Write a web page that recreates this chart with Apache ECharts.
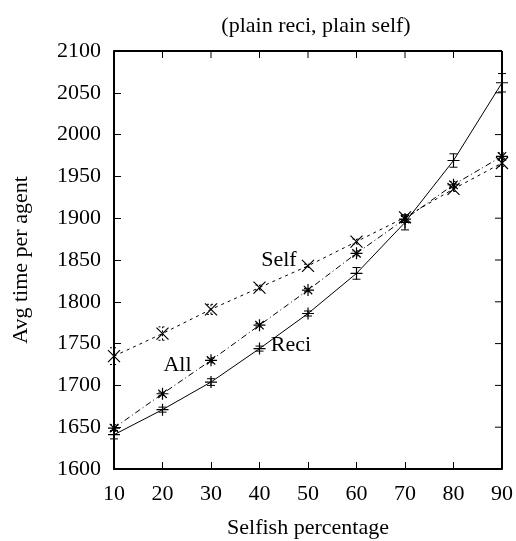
<!DOCTYPE html>
<html>
<head>
<meta charset="utf-8">
<script src="https://cdn.jsdelivr.net/npm/echarts@6/dist/echarts.min.js"></script>
<style>
  html, body { margin: 0; padding: 0; background: #fff; }
  #chart { width: 516px; height: 541px; }
</style>
</head>
<body>
<div id="chart"></div>
<script>
// selfish percentage on the x axis
const xs = [10, 20, 30, 40, 50, 60, 70, 80, 90]
// avg time per agent
const reci = [1641, 1671, 1704, 1744, 1786, 1834, 1895, 1969, 2062]
const reciErr = [5, 3, 4, 3, 3, 7, 9, 8, 11]
const all = [1649, 1690, 1730, 1772, 1814, 1858, 1899, 1940, 1974]
const allErr = [4, 2, 3, 2, 2, 3, 3, 4, 4]
const self = [1735, 1762, 1791, 1817, 1843, 1872, 1901, 1935, 1966]
const selfErr = [10, 8, 6, 3, 2, 3, 3, 3, 4]
const yTicks = [1600, 1650, 1700, 1750, 1800, 1850, 1900, 1950, 2000, 2050, 2100]

const font = 'Liberation Serif'
const fs = 22

// marker shapes
const plusPath = 'path://M0 5 L10 5 M5 0 L5 10'
const crossPath = 'path://M0 0 L10 10 M0 10 L10 0'
const starPath = 'path://M0 5 L10 5 M5 0 L5 10 M1.5 1.5 L8.5 8.5 M1.5 8.5 L8.5 1.5'

function pairs (vals) {
  return xs.map((x, i) => [x, vals[i]])
}

function errData (vals, errs) {
  return xs.map((x, i) => [x, vals[i] - errs[i], vals[i] + errs[i]])
}

// error bars drawn through the axis scales
function errSeries (name, vals, errs, dash, capW) {
  return {
    type: 'custom',
    name: name,
    data: errData(vals, errs),
    silent: true,
    z: 3,
    renderItem: function (params, api) {
      const lo = api.coord([api.value(0), api.value(1)])
      const hi = api.coord([api.value(0), api.value(2)])
      const st = { stroke: '#000', lineWidth: 1, lineDash: dash }
      return {
        type: 'group',
        children: [
          { type: 'line', shape: { x1: lo[0], y1: lo[1], x2: hi[0], y2: hi[1] }, style: st },
          { type: 'line', shape: { x1: lo[0] - capW, y1: lo[1], x2: lo[0] + capW, y2: lo[1] }, style: st },
          { type: 'line', shape: { x1: hi[0] - capW, y1: hi[1], x2: hi[0] + capW, y2: hi[1] }, style: st }
        ]
      }
    }
  }
}

function lineSeries (name, vals, symbol, dash) {
  return {
    type: 'line',
    name: name,
    data: pairs(vals),
    symbol: symbol,
    symbolSize: 12,
    showAllSymbol: true,
    z: 4,
    lineStyle: { color: '#000', width: 1, type: dash },
    itemStyle: { color: 'none', borderColor: '#000', borderWidth: 1.2 },
    emphasis: { disabled: true }
  }
}

const myChart = echarts.init(document.getElementById('chart'), null, { renderer: 'canvas' })

const options = {
  animation: false,
  backgroundColor: '#fff',
  textStyle: { fontFamily: font, color: '#000' },
  title: {
    text: '(plain reci, plain self)',
    left: 311,
    top: 10,
    textAlign: 'center',
    textStyle: { fontFamily: font, fontSize: 22, fontWeight: 'normal', color: '#000' }
  },
  grid: { left: 114, right: 14, top: 51, bottom: 72, containLabel: false, outerBoundsMode: 'none' },
  xAxis: {
    type: 'value',
    min: 10,
    max: 90,
    interval: 10,
    name: 'Selfish percentage',
    nameLocation: 'middle',
    nameGap: 48,
    nameTextStyle: { fontFamily: font, fontSize: fs, color: '#000' },
    axisLine: { lineStyle: { color: '#000', width: 2 } },
    axisTick: { inside: true, length: 7, lineStyle: { color: '#000', width: 1 } },
    axisLabel: { fontFamily: font, fontSize: fs, color: '#000', margin: 14 },
    splitLine: { show: false }
  },
  yAxis: {
    type: 'value',
    min: yTicks[0],
    max: yTicks[yTicks.length - 1],
    interval: 50,
    name: 'Avg time per agent',
    nameLocation: 'middle',
    nameGap: 82,
    nameTextStyle: { fontFamily: font, fontSize: fs, color: '#000' },
    axisLine: { lineStyle: { color: '#000', width: 2 } },
    axisTick: { inside: true, length: 7, lineStyle: { color: '#000', width: 1 } },
    axisLabel: { fontFamily: font, fontSize: fs, color: '#000', margin: 13, formatter: v => String(v) },
    splitLine: { show: false }
  },
  series: [
    errSeries('reciErr', reci, reciErr, null, 4),
    errSeries('allErr', all, allErr, [2, 2], 4),
    errSeries('selfErr', self, selfErr, [2, 2], 4),
    lineSeries('Reci', reci, plusPath, 'solid'),
    lineSeries('All', all, starPath, [6, 3, 1, 3]),
    lineSeries('Self', self, crossPath, [3, 4]),
    {
      // text labels next to the curves
      type: 'scatter',
      data: [],
      silent: true,
      markPoint: {
        symbol: 'circle',
        symbolSize: 0,
        label: { show: true, fontFamily: font, fontSize: fs, color: '#000', position: 'inside' },
        data: [
          { coord: [44, 1850], value: 'Self', label: { formatter: 'Self' } },
          { coord: [23.1, 1724], value: 'All', label: { formatter: 'All' } },
          { coord: [46.5, 1748], value: 'Reci', label: { formatter: 'Reci' } }
        ]
      }
    }
  ],
  graphic: []
}

myChart.setOption(options)

// frame: top and right edges with mirrored inner ticks
const frameX = myChart.convertToPixel({ xAxisIndex: 0 }, 10)
const frameR = myChart.convertToPixel({ xAxisIndex: 0 }, 90)
const frameT = myChart.convertToPixel({ yAxisIndex: 0 }, 2100)
const frameB = myChart.convertToPixel({ yAxisIndex: 0 }, 1600)
const extra = [
  { type: 'line', shape: { x1: frameX, y1: frameT, x2: frameR, y2: frameT }, style: { stroke: '#000', lineWidth: 2 } },
  { type: 'line', shape: { x1: frameR, y1: frameT, x2: frameR, y2: frameB }, style: { stroke: '#000', lineWidth: 2 } }
]
xs.forEach(x => {
  const px = myChart.convertToPixel({ xAxisIndex: 0 }, x)
  extra.push({ type: 'line', shape: { x1: px, y1: frameT, x2: px, y2: frameT + 7 }, style: { stroke: '#000', lineWidth: 1 } })
})
yTicks.forEach(v => {
  const py = myChart.convertToPixel({ yAxisIndex: 0 }, v)
  extra.push({ type: 'line', shape: { x1: frameR, y1: py, x2: frameR - 7, y2: py }, style: { stroke: '#000', lineWidth: 1 } })
})
myChart.setOption({ graphic: extra })
</script>
</body>
</html>
